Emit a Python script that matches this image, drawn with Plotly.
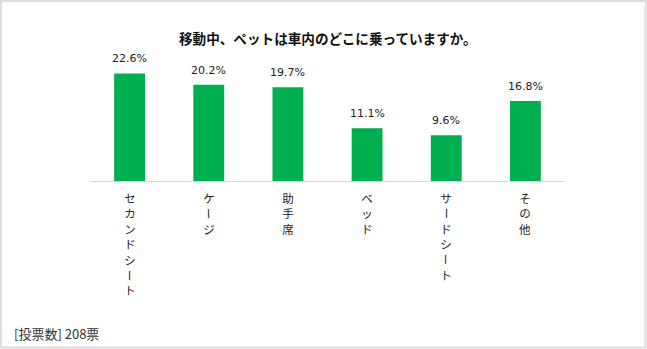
import plotly.graph_objects as go

# Survey result: where pets ride in the car while travelling
categories = ["セカンドシート", "ケージ", "助手席", "ベッド", "サードシート", "その他"]
shares = [22.6, 20.2, 19.7, 11.1, 9.6, 16.8]
title_text = "移動中、ペットは車内のどこに乗っていますか。"
footer_text = "[投票数] 208票"

W, H = 647, 349
M_L, M_R, M_T, M_B = 90, 82, 62, 168
plot_w = W - M_L - M_R
plot_h = H - M_T - M_B

GREEN = "#00b050"
JP_FONT = "Noto Sans CJK JP"

fig = go.Figure(
    go.Bar(
        x=categories,
        y=shares,
        marker=dict(color=GREEN, line=dict(width=0)),
        width=0.39,
        hoverinfo="skip",
    )
)

annotations = []

# value labels above each bar
for cat, val in zip(categories, shares):
    annotations.append(dict(
        x=cat, y=val, xref="x", yref="y",
        text=f"{val:.1f}%", showarrow=False,
        yanchor="bottom", yshift=6,
        font=dict(family="DejaVu Sans", size=11, color="#222222"),
    ))

# category names written vertically, one character per line
for cat in categories:
    for i, ch in enumerate(cat):
        annotations.append(dict(
            x=cat, y=0, xref="x", yref="paper",
            text=ch, showarrow=False, height=14, width=14,
            yanchor="middle", yshift=-(17 + 15.4 * i),
            textangle=90 if ch == "ー" else 0,
            font=dict(family=JP_FONT, size=11.5, color="#222222"),
        ))

# title and footer
annotations.append(dict(
    x=(328 - M_L) / plot_w, y=(H - M_B - 38) / plot_h,
    xref="paper", yref="paper", text=f"<b>{title_text}</b>",
    showarrow=False, xanchor="center", yanchor="middle",
    font=dict(family=JP_FONT, size=13.6, color="#111111"),
))
annotations.append(dict(
    x=(12 - M_L) / plot_w, y=(H - M_B - 333) / plot_h,
    xref="paper", yref="paper", text=footer_text,
    showarrow=False, xanchor="left", yanchor="middle",
    font=dict(family=JP_FONT, size=13, color="#333333"),
))

# thin grey frame around the whole figure
def px_to_paper_x(px):
    return (px - M_L) / plot_w

def px_to_paper_y(py):
    return (H - M_B - py) / plot_h

fig.update_layout(
    width=W, height=H,
    margin=dict(l=M_L, r=M_R, t=M_T, b=M_B, pad=0),
    paper_bgcolor="white", plot_bgcolor="white",
    showlegend=False,
    annotations=annotations,
    shapes=[dict(
        type="rect", xref="paper", yref="paper",
        x0=px_to_paper_x(1), x1=px_to_paper_x(W - 1.5),
        y0=px_to_paper_y(H - 1.5), y1=px_to_paper_y(1),
        line=dict(color="#dddddd", width=2), fillcolor="rgba(0,0,0,0)",
        layer="below",
    )],
    xaxis=dict(
        showticklabels=False, ticks="", showgrid=False, zeroline=False,
        showline=True, linecolor="#d9d9d9", linewidth=1,
        range=[-0.5, len(categories) - 0.5], fixedrange=True,
    ),
    yaxis=dict(
        range=[0, 25], visible=False, showgrid=False, zeroline=False,
        fixedrange=True,
    ),
)

fig.write_html("out.html", config={"displayModeBar": False})
